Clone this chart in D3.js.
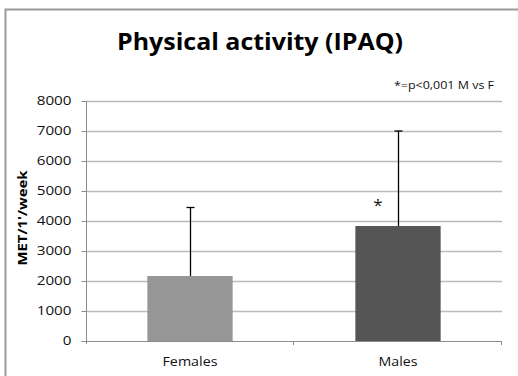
<!DOCTYPE html>
<html>
<head>
<meta charset="utf-8">
<script src="https://cdn.jsdelivr.net/npm/d3@7"></script>
<style>
  html, body { margin: 0; padding: 0; background: #fff; }
  svg { display: block; font-family: "Open Sans", Lato, sans-serif; }
</style>
</head>
<body>
<svg id="chart" width="518" height="376"></svg>
<script>
// Mean weekly physical activity by sex, with SD error bars
const categories = ["Females", "Males"];
const means = [2167, 3833];
const errorTops = [4450, 7000];
const barColors = ["#969696", "#555555"];
const yTicks = [0, 1000, 2000, 3000, 4000, 5000, 6000, 7000, 8000];
const significance = ["", "*"];

const svg = d3.select("#chart");
const W = 518, H = 376;
const margin = { left: 86, right: 16, top: 101, bottom: 35 };

// Stretch a label to a set advance width
const fit = (sel, w) => sel.attr("textLength", w).attr("lengthAdjust", "spacingAndGlyphs");

// Outer chart frame (right and bottom edges fall outside the view)
svg.append("rect")
  .attr("x", 5.5).attr("y", 9.5)
  .attr("width", W + 20).attr("height", H + 20)
  .attr("fill", "none").attr("stroke", "#9a9a9a").attr("stroke-width", 2);

const x = d3.scaleBand().domain(categories).range([margin.left, W - margin.right]).paddingInner(0.59).paddingOuter(0.295);
const band = d3.scaleBand().domain(categories).range([margin.left, W - margin.right]);
const y = d3.scaleLinear().domain([0, 8000]).range([H - margin.bottom, margin.top]);

// Gridlines
svg.append("g").selectAll("line").data(yTicks.filter(d => d > 0)).join("line")
  .attr("x1", margin.left).attr("x2", W - margin.right)
  .attr("y1", d => Math.round(y(d)) + 0.5).attr("y2", d => Math.round(y(d)) + 0.5)
  .attr("stroke", "#bbbbbb").attr("stroke-width", 1.5);

// Y axis
const yAxis = svg.append("g").attr("transform", `translate(${margin.left + 0.5},0)`)
  .call(d3.axisLeft(y).tickValues(yTicks).tickSize(5).tickPadding(10).tickFormat(d3.format("d")));
yAxis.select(".domain").attr("stroke", "#8c8c8c").attr("d", `M0,${margin.top}V${y(0) + 3}`);
yAxis.selectAll(".tick line").attr("stroke", "#8c8c8c");
yAxis.selectAll(".tick text")
  .attr("font-size", 12).attr("fill", "#111").attr("font-family", "'Open Sans', sans-serif")
  .each(function (d) { fit(d3.select(this), String(d).length * 8.7); });

// Bars
svg.append("g").selectAll("rect").data(categories).join("rect")
  .attr("x", d => x(d)).attr("width", x.bandwidth())
  .attr("y", (d, i) => y(means[i])).attr("height", (d, i) => y(0) - y(means[i]))
  .attr("fill", (d, i) => barColors[i]);

// X axis
const catWidths = { Females: 55, Males: 39 };
const xAxis = svg.append("g").attr("transform", `translate(0,${Math.round(y(0)) + 0.5})`)
  .call(d3.axisBottom(band).tickSize(0).tickPadding(16));
xAxis.select(".domain").attr("stroke", "#8c8c8c").attr("d", `M${margin.left},0H${W - margin.right}`);
xAxis.selectAll(".tick text")
  .attr("font-size", 12).attr("fill", "#111").attr("font-family", "'Open Sans', sans-serif")
  .each(function (d) { fit(d3.select(this), catWidths[d]); });
// category boundary ticks
svg.append("g").selectAll("line").data([band.step(), 2 * band.step()]).join("line")
  .attr("x1", d => Math.round(margin.left + d) - 0.5).attr("x2", d => Math.round(margin.left + d) - 0.5)
  .attr("y1", y(0)).attr("y2", y(0) + 4)
  .attr("stroke", "#8c8c8c");

// Error bars (upper only)
const eb = svg.append("g").attr("stroke", "#000").attr("stroke-width", 1.3);
categories.forEach((c, i) => {
  const cx = Math.round(x(c) + x.bandwidth() / 2) + 0.5;
  eb.append("line").attr("x1", cx).attr("x2", cx).attr("y1", y(means[i])).attr("y2", y(errorTops[i]));
  eb.append("line").attr("x1", cx - 4).attr("x2", cx + 4).attr("y1", y(errorTops[i])).attr("y2", y(errorTops[i]));
});

// Significance markers
svg.append("g").selectAll("text").data(categories).join("text")
  .attr("x", d => x(d) + x.bandwidth() / 2 - 20)
  .attr("y", (d, i) => y(means[i]) - 15)
  .attr("text-anchor", "middle").attr("font-size", 17).attr("fill", "#111")
  .text((d, i) => significance[i]);

// Title
fit(svg.append("text").attr("x", 260).attr("y", 50).attr("text-anchor", "middle")
  .attr("font-size", 24).attr("font-weight", "bold").attr("fill", "#000")
  .text("Physical activity (IPAQ)"), 286);

// Footnote
fit(svg.append("text").attr("x", 494).attr("y", 89).attr("text-anchor", "end")
  .attr("font-size", 10.5).attr("fill", "#111")
  .text("*=p<0,001 M vs F"), 100);

// Y axis title
fit(svg.append("text").attr("transform", "translate(27,218) rotate(-90)")
  .attr("text-anchor", "middle").attr("font-size", 12).attr("font-weight", "bold").attr("fill", "#000")
  .text("MET/1'/week"), 95);
</script>
</body>
</html>
